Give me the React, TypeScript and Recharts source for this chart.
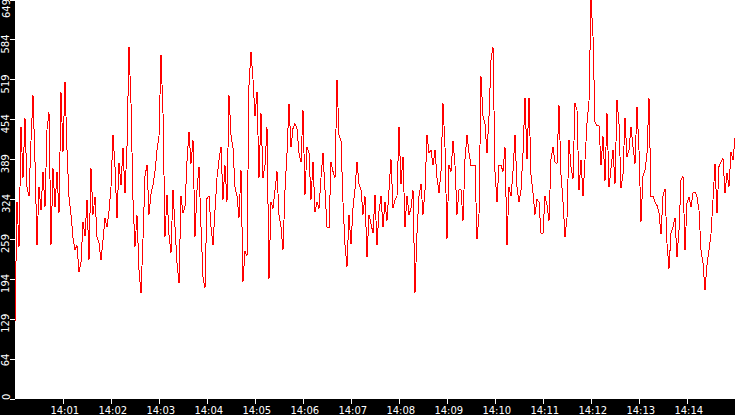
import { LineChart, Line, XAxis, YAxis, CartesianGrid } from 'recharts'

// one sample every 2.5 s, starting one second before 14:00
const values = [
  124, 321, 248, 443, 360, 457, 345, 330, 420, 494,
  386, 250, 345, 307, 369, 312, 438, 467, 250, 375,
  312, 369, 302, 499, 402, 516, 405, 329, 300, 262,
  243, 250, 207, 223, 288, 265, 324, 226, 375, 300,
  329, 264, 254, 226, 259, 294, 280, 305, 345, 430,
  378, 294, 384, 348, 408, 335, 410, 573, 481, 324,
  248, 299, 210, 172, 260, 362, 381, 300,
  334, 348, 370, 405, 427, 560, 465, 264, 332, 267,
  238, 340, 280, 221, 188, 330, 302, 313, 386, 435,
  383, 421, 264,
  340, 378, 280, 199, 180, 326, 330, 280, 250, 307,
  360, 389, 410, 324, 380, 321, 494, 430, 408, 345,
  330, 295, 372, 191, 240, 232, 510, 565, 520, 460,
  500, 360, 465, 360, 380, 443, 196, 320, 310, 340,
  370, 300, 280, 242, 340,
  400, 480, 410, 440, 448, 440, 400, 385, 470, 332,
  410, 400, 324, 386, 305, 320, 310, 360, 400, 340,
  280, 278, 385, 370, 360, 519, 430, 420, 320, 250,
  215, 300, 252, 310, 342, 386, 350, 340, 300, 330,
  231, 300, 285, 270, 332,
  250, 305, 330, 280, 320, 290, 340, 390, 310, 324,
  330, 443, 350, 394, 280, 330, 300, 310, 340, 172,
  270, 330, 350, 300, 340, 430, 400, 405, 380, 405,
  360, 335, 370, 481, 410, 261, 380, 370, 420, 380,
  300, 340, 340, 290, 390,
  430, 400, 380, 380, 380, 260, 300, 525, 460, 448,
  400, 460, 551, 573, 370, 320, 380, 380, 370, 410,
  250, 345, 330, 370, 430, 345, 320, 340, 400, 490,
  390, 490, 365, 335, 300, 325, 320, 270, 270, 330,
  315, 290, 390, 410, 385,
  383, 478, 365, 321, 264, 294, 421, 378, 358, 481,
  470, 340, 389, 330, 389, 448, 484, 649, 590, 450,
  445, 445, 380, 427, 355, 465, 345, 375, 405, 350,
  486, 448, 343, 365, 457, 394, 405, 443, 410, 383,
  475, 405, 288, 362, 372,
  400, 490, 330, 330, 320, 315, 302, 268, 330, 342,
  253, 212, 270, 280, 295, 231, 275, 356, 362, 242,
  318, 329, 313, 335, 337, 329, 307, 242, 221, 177,
  218, 242, 269, 324, 383, 302, 378, 386, 391, 335,
  367, 345, 402, 389, 424,
]

const minuteTicks = [1, 2, 3, 4, 5, 6, 7, 8, 9, 10, 11, 12, 13, 14]
const yTicks = [0, 64.9, 129.8, 194.7, 259.6, 324.5, 389.4, 454.3, 519.2, 584.1, 649]

const START_SEC = -1
const STEP_SEC = 2.5
const END_SEC = 899

const data = values.map((v, i) => ({ t: START_SEC + i * STEP_SEC, v }))

const YTick = (props: any) => {
  const { x, y, payload } = props
  const bx = x - 0.5
  // keep the top label inside the picture
  const by = Math.max(y - 5.5, -1)
  return (
    <text
      x={bx}
      y={by}
      transform={`rotate(-90, ${bx}, ${by})`}
      textAnchor="end"
      fill="#fff"
      fontSize={10}
      fontFamily="DejaVu Sans"
    >
      {Math.floor(payload.value)}
    </text>
  )
}

const XTick = (props: any) => {
  const { x, y, payload } = props
  const m = Math.round(payload.value / 60)
  return (
    <text x={x + 1} y={y + 10} textAnchor="middle" fill="#fff" fontSize={10} fontFamily="DejaVu Sans">
      {`14:${String(m).padStart(2, '0')}`}
    </text>
  )
}

export default function App() {
  return (
    <div
      style={{
        position: 'absolute',
        left: 0,
        top: 0,
        width: 735,
        height: 415,
        background: '#000',
        shapeRendering: 'crispEdges',
      }}
    >
      <LineChart width={735} height={415} data={data} margin={{ top: 0, right: 0, bottom: 0, left: 0 }}>
        <CartesianGrid horizontal={false} vertical={false} fill="#fff" fillOpacity={1} stroke="none" />
        <XAxis
          type="number"
          dataKey="t"
          domain={[START_SEC, END_SEC]}
          ticks={minuteTicks.map((m) => m * 60)}
          interval={0}
          height={16}
          axisLine={false}
          tickLine={{ stroke: '#fff' }}
          tickSize={5}
          tickMargin={0}
          tick={<XTick />}
          allowDataOverflow
        />
        <YAxis
          type="number"
          domain={[0, 649]}
          ticks={yTicks}
          interval={0}
          width={15}
          axisLine={false}
          tickLine={{ stroke: '#fff' }}
          tickSize={5}
          tickMargin={0}
          tick={<YTick />}
          allowDataOverflow
        />
        <Line
          type="linear"
          dataKey="v"
          stroke="#ff0000"
          strokeWidth={1}
          dot={false}
          activeDot={false}
          isAnimationActive={false}
        />
      </LineChart>
    </div>
  )
}
